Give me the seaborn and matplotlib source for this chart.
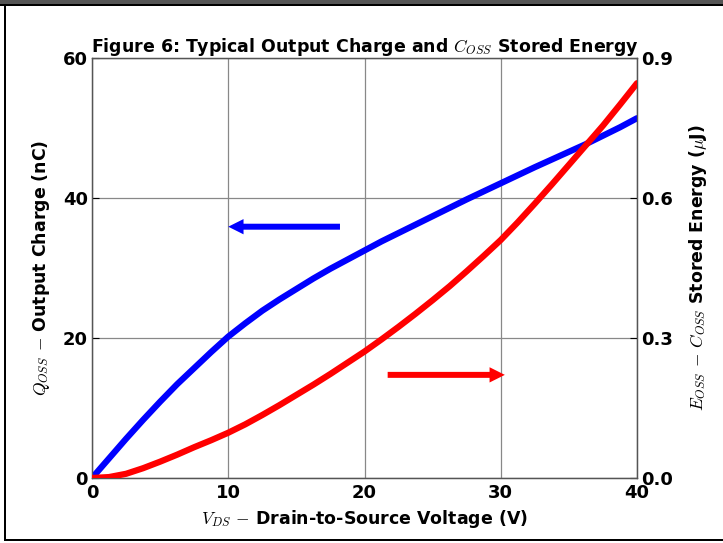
import matplotlib
matplotlib.use("Agg")
import matplotlib.pyplot as plt
import seaborn as sns
import pandas as pd
from matplotlib.patches import Rectangle

# ---- data ----
vds = [0, 1.25, 2.5, 3.75, 5, 6.25, 7.5, 8.75, 10, 11.25, 12.5, 13.75, 15, 16.25, 17.5, 18.75,
       20, 21.25, 22.5, 23.75, 25, 26.25, 27.5, 28.75, 30, 31.25, 32.5, 33.75, 35, 36.25,
       37.5, 38.75, 40]
qoss = [0, 2.8, 5.6, 8.3, 10.9, 13.4, 15.7, 18.0, 20.2, 22.1, 23.9, 25.5, 27.0, 28.5, 29.9, 31.2,
        32.5, 33.8, 35.0, 36.2, 37.4, 38.6, 39.8, 40.95, 42.1, 43.25, 44.4, 45.5, 46.6, 47.7,
        48.9, 50.1, 51.4]
eoss = [0, 0.002, 0.009, 0.021, 0.035, 0.050, 0.066, 0.081, 0.097, 0.115, 0.135, 0.156, 0.178,
        0.200, 0.223, 0.247, 0.271, 0.297, 0.324, 0.352, 0.381, 0.411, 0.443, 0.476, 0.510,
        0.548, 0.588, 0.629, 0.671, 0.713, 0.755, 0.800, 0.846]
x_ticks = [0, 10, 20, 30, 40]
yl_ticks = [0, 20, 40, 60]
yr_ticks = [0.0, 0.3, 0.6, 0.9]

df = pd.DataFrame({"vds": vds, "qoss": qoss, "eoss": eoss})

sns.set_style("white")
plt.rcParams["mathtext.fontset"] = "cm"
plt.rcParams["font.family"] = ["DejaVu Sans"]
plt.rcParams["text.color"] = "black"
plt.rcParams["axes.labelcolor"] = "black"
plt.rcParams["xtick.color"] = "black"
plt.rcParams["ytick.color"] = "black"

fig = plt.figure(figsize=(7.23, 5.43), dpi=100)
ax = fig.add_axes([92 / 723, 1 - 478 / 543, (637 - 92) / 723, (478 - 58) / 543])
ax2 = ax.twinx()

sns.lineplot(data=df, x="vds", y="qoss", ax=ax, color="#0000ff", linewidth=4.5, zorder=3,
             solid_joinstyle="round")
sns.lineplot(data=df, x="vds", y="eoss", ax=ax2, color="#ff0000", linewidth=4.5, zorder=3,
             solid_joinstyle="round")

ax.set_xlim(0, 40)
ax.set_ylim(0, 60)
ax2.set_ylim(0, 0.9)
ax.set_xticks(x_ticks)
ax.set_yticks(yl_ticks)
ax2.set_yticks(yr_ticks)
ax.set_xticklabels([str(t) for t in x_ticks], fontweight="bold", fontsize=13)
ax.set_yticklabels([str(t) for t in yl_ticks], fontweight="bold", fontsize=13)
ax2.set_yticklabels(["%.1f" % t for t in yr_ticks], fontweight="bold", fontsize=13)

ax.grid(True, color="#888888", linewidth=0.9)
ax.set_axisbelow(True)
for a in (ax, ax2):
    a.tick_params(direction="in", length=5, width=0.8, color="black", pad=3)
    for s in a.spines.values():
        s.set_color("#555555")
        s.set_linewidth(0.9)
ax.tick_params(axis="x", pad=4)

ax.set_xlabel(r"$V_{DS}$ $-$ Drain-to-Source Voltage (V)", fontweight="bold", fontsize=12.5, labelpad=5)
ax.set_ylabel(r"$Q_{OSS}$ $-$ Output Charge (nC)", fontweight="bold", fontsize=12.5, labelpad=8)
ax2.set_ylabel(r"$E_{OSS}$ $-$ $C_{OSS}$ Stored Energy ($\mu$J)", fontweight="bold", fontsize=12.5,
               labelpad=10)
ax.set_title(r"Figure 6: Typical Output Charge and $C_{OSS}$ Stored Energy",
             fontweight="bold", fontsize=12.5, pad=2)

# direction arrows
ax.annotate("", xy=(10.0, 35.9), xytext=(18.2, 35.9),
            arrowprops=dict(width=4.3, headwidth=11, headlength=11, color="#0000ff",
                            shrink=0, linewidth=0), zorder=4)
ax2.annotate("", xy=(30.3, 0.221), xytext=(21.7, 0.221),
             arrowprops=dict(width=4.3, headwidth=11, headlength=11, color="#ff0000",
                             shrink=0, linewidth=0), zorder=4)

# window frame
fig.add_artist(Rectangle((0, 1 - 4 / 543), 1, 4 / 543, transform=fig.transFigure,
                         facecolor="#555555", edgecolor="none"))
fig.add_artist(Rectangle((0, 1 - 6 / 543), 1, 2 / 543, transform=fig.transFigure,
                         facecolor="black", edgecolor="none"))
fig.add_artist(Rectangle((4 / 723, 2 / 543), 2 / 723, 1 - 8 / 543, transform=fig.transFigure,
                         facecolor="black", edgecolor="none"))
fig.add_artist(Rectangle((4 / 723, 2 / 543), 1 - 4 / 723, 2 / 543, transform=fig.transFigure,
                         facecolor="black", edgecolor="none"))

fig.savefig("out.png", dpi=100)
